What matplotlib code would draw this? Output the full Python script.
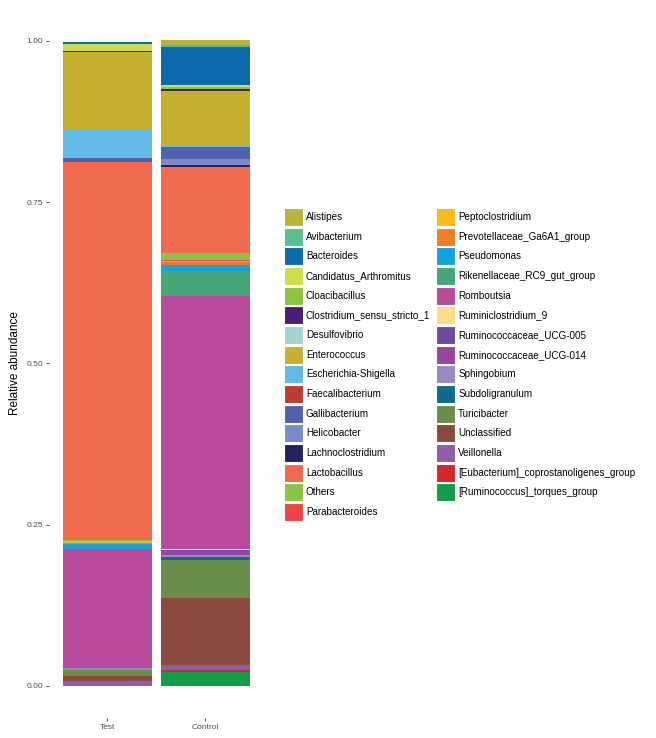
import numpy as np
import matplotlib
matplotlib.use("Agg")
import matplotlib.pyplot as plt
from matplotlib.patches import Patch

plt.rcParams['font.family'] = ['Liberation Sans', 'DejaVu Sans']

# genera in legend order; first one is stacked on top
genera = ["Alistipes", "Avibacterium", "Bacteroides", "Candidatus_Arthromitus",
          "Cloacibacillus", "Clostridium_sensu_stricto_1", "Desulfovibrio",
          "Enterococcus", "Escherichia-Shigella", "Faecalibacterium",
          "Gallibacterium", "Helicobacter", "Lachnoclostridium", "Lactobacillus",
          "Others", "Parabacteroides", "Peptoclostridium",
          "Prevotellaceae_Ga6A1_group", "Pseudomonas", "Rikenellaceae_RC9_gut_group",
          "Romboutsia", "Ruminiclostridium_9", "Ruminococcaceae_UCG-005",
          "Ruminococcaceae_UCG-014", "Sphingobium", "Subdoligranulum",
          "Turicibacter", "Unclassified", "Veillonella",
          "[Eubacterium]_coprostanoligenes_group", "[Ruminococcus]_torques_group"]

colors = ["#B9B43B", "#58C08F", "#0B69AC", "#CFDC4B", "#8CC63F", "#4A1E78",
          "#A6D4D1", "#C6B12F", "#65B9E7", "#BE3A32", "#5161AD", "#7B8BCA",
          "#23245F", "#F06B4E", "#8BC442", "#EE4445", "#F8B91A", "#F27C25",
          "#12A3DE", "#46A678", "#B84A9C", "#F9DE86", "#6A4BA0", "#97479D",
          "#9788C2", "#0F6A8D", "#6A8D4B", "#8A4B3E", "#8D5DAA", "#D7262B",
          "#149D48"]

samples = ["Test", "Control"]

test = [0.000, 0.000, 0.003, 0.011, 0.000, 0.002, 0.000, 0.120, 0.044, 0.000,
        0.007, 0.000, 0.000, 0.586, 0.002, 0.000, 0.003, 0.001, 0.008, 0.000,
        0.184, 0.000, 0.000, 0.000, 0.004, 0.000, 0.008, 0.009, 0.007, 0.000,
        0.000]

control = [0.008, 0.002, 0.060, 0.003, 0.003, 0.003, 0.000, 0.085, 0.002, 0.000,
           0.018, 0.010, 0.002, 0.133, 0.012, 0.001, 0.002, 0.004, 0.010, 0.039,
           0.391, 0.002, 0.002, 0.006, 0.003, 0.005, 0.058, 0.104, 0.008, 0.003,
           0.022]

fig = plt.figure(figsize=(6.56, 7.38), dpi=100)
ax = fig.add_axes([0.0742, 0.0268, 0.3287, 0.9614])

x = np.arange(len(samples))
vals = np.array([test, control])
bottom = np.zeros(len(samples))
# stack from the last genus upward (ggplot default)
for i in range(len(genera) - 1, -1, -1):
    ax.bar(x, vals[:, i], width=0.9, bottom=bottom, color=colors[i], linewidth=0)
    bottom += vals[:, i]

ax.set_xlim(-0.6, 1.6)
ax.set_ylim(-0.05, 1.05)
ax.set_xticks(x)
ax.set_xticklabels(samples)
ax.set_yticks([0, 0.25, 0.5, 0.75, 1.0])
ax.set_yticklabels(["0.00", "0.25", "0.50", "0.75", "1.00"])
ax.tick_params(colors="#333333", labelcolor="#4D4D4D", labelsize=6, length=2, width=0.6, pad=2)
for s in ax.spines.values():
    s.set_visible(False)
ax.set_ylabel("Relative abundance", fontsize=8.5, labelpad=4)

handles = [Patch(facecolor=c, edgecolor="white", linewidth=0.8) for c in colors]
fig.legend(handles, genera, loc="upper left", bbox_to_anchor=(284 / 656, 1 - 208 / 738),
           ncol=2, frameon=False, fontsize=7.1, handlelength=1.93, handleheight=2.43,
           handletextpad=0.3, labelspacing=0.17, columnspacing=0.6, borderpad=0,
           borderaxespad=0)

fig.savefig("out.png", dpi=100)
